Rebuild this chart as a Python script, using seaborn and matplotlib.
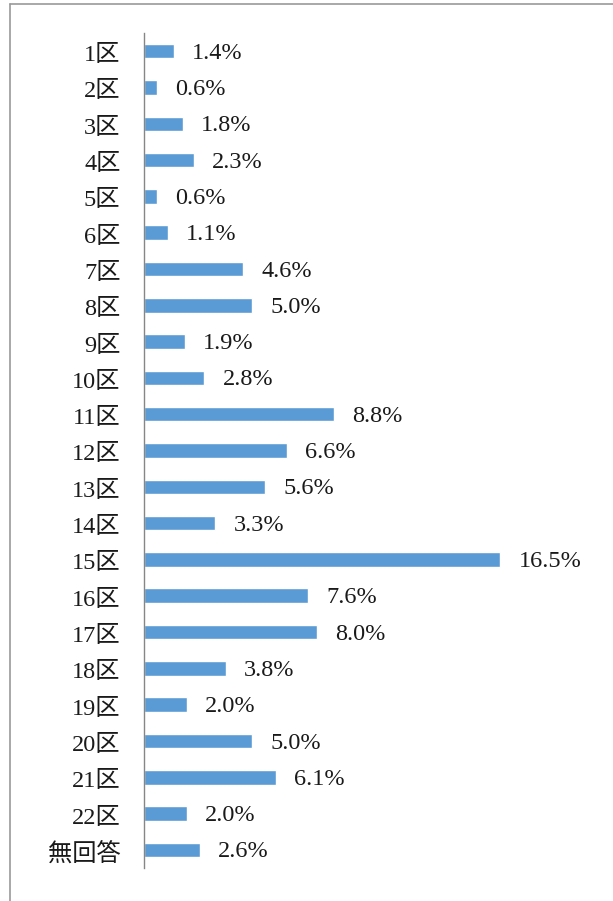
import matplotlib
matplotlib.use("Agg")
import matplotlib.pyplot as plt
from matplotlib.lines import Line2D
import matplotlib.transforms as mtrans
import seaborn as sns
import pandas as pd

categories = ["1区", "2区", "3区", "4区", "5区", "6区", "7区", "8区", "9区", "10区",
              "11区", "12区", "13区", "14区", "15区", "16区", "17区", "18区", "19区",
              "20区", "21区", "22区", "無回答"]
values = [1.4, 0.6, 1.8, 2.3, 0.6, 1.1, 4.6, 5.0, 1.9, 2.8, 8.8, 6.6, 5.6, 3.3,
          16.5, 7.6, 8.0, 3.8, 2.0, 5.0, 6.1, 2.0, 2.6]

df = pd.DataFrame({"category": categories, "value": values})

sns.set_style("white")
fam = ["Liberation Serif", "Noto Sans CJK JP", "DejaVu Sans"]
plt.rcParams["font.family"] = fam

W, H = 613, 901
fig = plt.figure(figsize=(W / 100, H / 100), dpi=100)
ax = fig.add_axes([144 / W, (H - 868) / H, (W - 144) / W, (868 - 33) / H])

sns.barplot(data=df, x="value", y="category", orient="h", color="#5B9BD5",
            width=0.4, saturation=1, ax=ax, order=categories)

ax.set_xlim(0, (W - 144) / 21.6)
ax.set_ylim(len(categories) - 0.5, -0.5)
ax.set_xlabel("")
ax.set_ylabel("")
ax.set_xticks([])
for s in ["top", "right", "bottom"]:
    ax.spines[s].set_visible(False)
ax.spines["left"].set_color("#868686")
ax.spines["left"].set_linewidth(1.0)
ax.tick_params(axis="y", length=0, pad=17, labelsize=17.5)
shift = mtrans.ScaledTranslation(0, -2 / 100, fig.dpi_scale_trans)
for lab in ax.get_yticklabels():
    lab.set_fontfamily(fam)
    lab.set_color("#1a1a1a")
    lab.set_transform(lab.get_transform() + shift)

for i, v in enumerate(values):
    ax.annotate(f"{v:.1f}%", xy=(v, i), xytext=(13, -1.5), textcoords="offset points",
                ha="left", va="center", fontsize=17.5, color="#1a1a1a", family=fam)

# frame lines (chart area border, left and top visible)
fig.add_artist(Line2D([9.5 / W, 9.5 / W], [0, (H - 4) / H], transform=fig.transFigure,
                      color="#999999", lw=1.2))
fig.add_artist(Line2D([9.5 / W, 1], [(H - 4) / H, (H - 4) / H], transform=fig.transFigure,
                      color="#999999", lw=1.2))

fig.savefig("out.png", dpi=100)
